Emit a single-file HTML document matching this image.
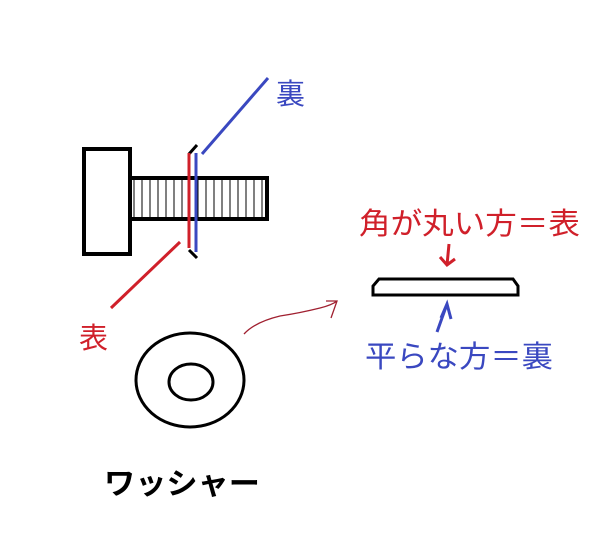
<!DOCTYPE html>
<html><head><meta charset="utf-8"><style>
html,body{margin:0;padding:0;background:#fff;}
svg{display:block}
text{font-family:"Liberation Sans","Noto Sans CJK JP",sans-serif;}
</style></head><body>
<svg width="616" height="539" viewBox="0 0 616 539">
<rect x="84" y="149" width="46" height="105" fill="none" stroke="#000" stroke-width="4"/>
<rect x="130" y="178" width="137" height="41" fill="none" stroke="#000" stroke-width="4"/>
<g stroke="#000" stroke-width="1">
<path d="M134 180V217M142 180V217M150 180V217M158 180V217M166 180V217M174 180V217M182 180V217M198 180V217M206 180V217M214 180V217M222 180V217M230 180V217M238 180V217M246 180V217M254 180V217M262 180V217"/>
</g>
<path d="M189 154L197 145M189 250L197 258" stroke="#000" stroke-width="3" fill="none"/>
<line x1="189" y1="153" x2="189" y2="248" stroke="#d0202a" stroke-width="3"/>
<line x1="196" y1="153" x2="196" y2="252" stroke="#3a48c0" stroke-width="3"/>
<line x1="202" y1="154" x2="268" y2="78" stroke="#3a48c0" stroke-width="3"/>
<line x1="180" y1="242" x2="111" y2="308" stroke="#d0202a" stroke-width="3"/>
<text x="276" y="104" font-size="29" fill="#3a48c0">裏</text>
<text x="79" y="348" font-size="29" fill="#d0202a">表</text>
<ellipse cx="190" cy="380" rx="54" ry="47" fill="none" stroke="#000" stroke-width="3"/>
<ellipse cx="191" cy="382" rx="22" ry="18" fill="none" stroke="#000" stroke-width="3"/>
<path d="M379 279L513 279L518 286L518 295L373 295L373 286Z" fill="none" stroke="#000" stroke-width="3"/>
<path d="M449 244L447 265M440 257L447 265L455 259" stroke="#d0202a" stroke-width="3" fill="none"/>
<path d="M437 332L447 304M441 318L447 304L451 319" stroke="#3a48c0" stroke-width="3" fill="none"/>
<path d="M244 334Q255 322 280 316Q300 313 320 308Q332 305 337 301M326 301L337 301L331 318" stroke="#a02030" stroke-width="1.3" fill="none"/>
<text x="359" y="234" font-size="30" fill="#d0202a" textLength="221" lengthAdjust="spacingAndGlyphs">角が丸い方＝表</text>
<text x="365" y="367" font-size="30" fill="#3a48c0" textLength="188" lengthAdjust="spacingAndGlyphs">平らな方＝裏</text>
<text x="104" y="494" font-size="30" font-weight="bold" fill="#000" textLength="156" lengthAdjust="spacingAndGlyphs">ワッシャー</text>
</svg>
</body></html>
